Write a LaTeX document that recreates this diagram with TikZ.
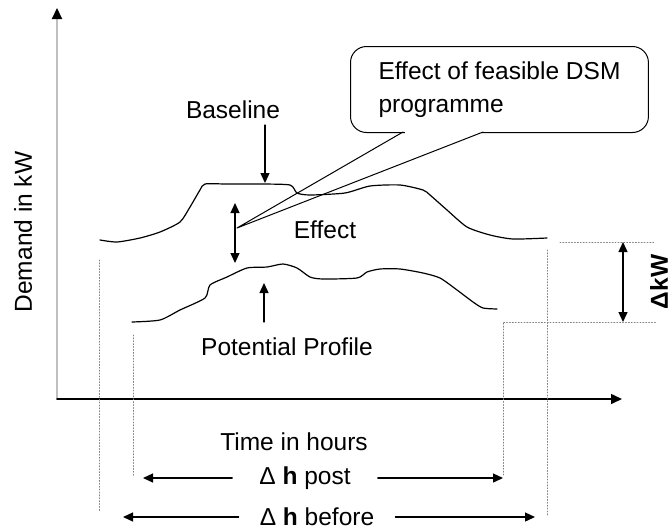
\documentclass[tikz,border=0pt]{standalone}
\usepackage{fontspec}
\setmainfont{Liberation Sans}
\usetikzlibrary{arrows.meta}

\begin{document}
\begin{tikzpicture}[x=1pt, y=-1pt, line cap=round, line join=round]
		\tikzstyle{every node}=[inner sep=1pt, align=center, font=\fontsize{24.5}{33}\selectfont]
		\tikzstyle{arr}=[line width=1.3pt, -{Triangle[length=10pt, width=9pt]}]
		\tikzstyle{darr}=[line width=1.3pt, {Triangle[length=10pt, width=9pt]}-{Triangle[length=10pt, width=9pt]}]
		\tikzstyle{guide}=[dotted, gray, line width=0.9pt]
		\tikzstyle{profile}=[line width=1.2pt]
		\useasboundingbox (0,0) rectangle (672,531);
		% axes
		\coordinate (O) at (57,399);
		\coordinate (Ytop) at (57,8);
		\coordinate (Xend) at (622,399);
		\draw [gray!50, line width=2.2pt, -{Triangle[length=11pt, width=10pt, color=black]}] (O) -- (Ytop);
		\draw [line width=1.5pt, -{Triangle[length=11pt, width=10pt]}] (O) -- (Xend);
		\node (ylab) at (23,232) [rotate=90] {Demand in kW};
		\node (xlab) at (294,442) {Time in hours};
		% baseline and potential profile
		\draw [profile] plot [smooth, tension=0.4] coordinates {(100,240) (117,242) (140,238) (160,232) (180,222) (190,207) (200,190) (205,184) (227,184) (260,184) (290,185) (297,193) (310,195) (345,193) (370,186) (400,185) (423,190) (430,195) (447,210) (467,227) (490,235) (513,239) (547,238)};
		\draw [profile] plot [smooth, tension=0.4] coordinates {(132,322) (160,320) (180,310) (205,298) (210,285) (227,277) (247,268) (267,267) (283,264) (297,268) (310,277) (323,279) (357,278) (367,272) (380,269) (400,269) (423,273) (440,278) (457,290) (473,302) (483,308) (497,309)};
		\node (base) at (233,110) {Baseline};
		\node (pot) at (287,347) {Potential Profile};
		\node (eff) at (325,230) {Effect};
		\coordinate (baseA) at (265,125);
		\coordinate (baseB) at (265,183);
		\coordinate (potA) at (264,322);
		\coordinate (potB) at (264,283);
		\coordinate (effA) at (235,203);
		\coordinate (effB) at (235,263);
		\draw [arr] (baseA) -- (baseB);
		\draw [arr] (potA) -- (potB);
		\draw [darr] (effA) -- (effB);
		% callout
		\node (dsm) at (350,46) [anchor=north west, draw, line width=1pt, rounded corners=16pt, align=left, inner xsep=28pt, minimum height=86pt] {Effect of feasible DSM\\programme};
		\coordinate (ptr) at (237,228);
		\coordinate (ptrA) at (403,132);
		\coordinate (ptrB) at (483,132);
		\fill [white] (405,128) rectangle (481,136);
		\draw [line width=1pt] (ptrA) -- (ptr) -- (ptrB);
		% guides
		\coordinate (g1a) at (99,260);
		\coordinate (g1b) at (99,512);
		\coordinate (g2a) at (133,335);
		\coordinate (g2b) at (133,477);
		\coordinate (g3a) at (503,322);
		\coordinate (g3b) at (503,475);
		\coordinate (g4a) at (547,250);
		\coordinate (g4b) at (547,515);
		\coordinate (h1a) at (560,242);
		\coordinate (h1b) at (655,242);
		\coordinate (h2b) at (657,322);
		\draw [guide] (g1a) -- (g1b);
		\draw [guide] (g2a) -- (g2b);
		\draw [guide] (g3b) -- (g3a) -- (h2b);
		\draw [guide] (g4a) -- (g4b);
		\draw [guide] (h1a) -- (h1b);
		% delta kW
		\coordinate (kwA) at (623,242);
		\coordinate (kwB) at (623,322);
		\draw [darr] (kwA) -- (kwB);
		\node (dkw) at (650,282) [rotate=90, anchor=north, inner sep=0pt] {\textbf{ΔkW}};
		% hour spans
		\node (post) at (305,478) [inner xsep=27pt] {Δ \textbf{h} post};
		\node (before) at (317,517) [inner xsep=21pt] {Δ \textbf{h} before};
		\coordinate (postL) at (143,478);
		\coordinate (postR) at (503,478);
		\coordinate (befL) at (123,517);
		\coordinate (befR) at (535,517);
		\draw [arr] (post) -- (postL);
		\draw [arr] (post) -- (postR);
		\draw [arr] (before) -- (befL);
		\draw [arr] (before) -- (befR);
\end{tikzpicture}
\end{document}
